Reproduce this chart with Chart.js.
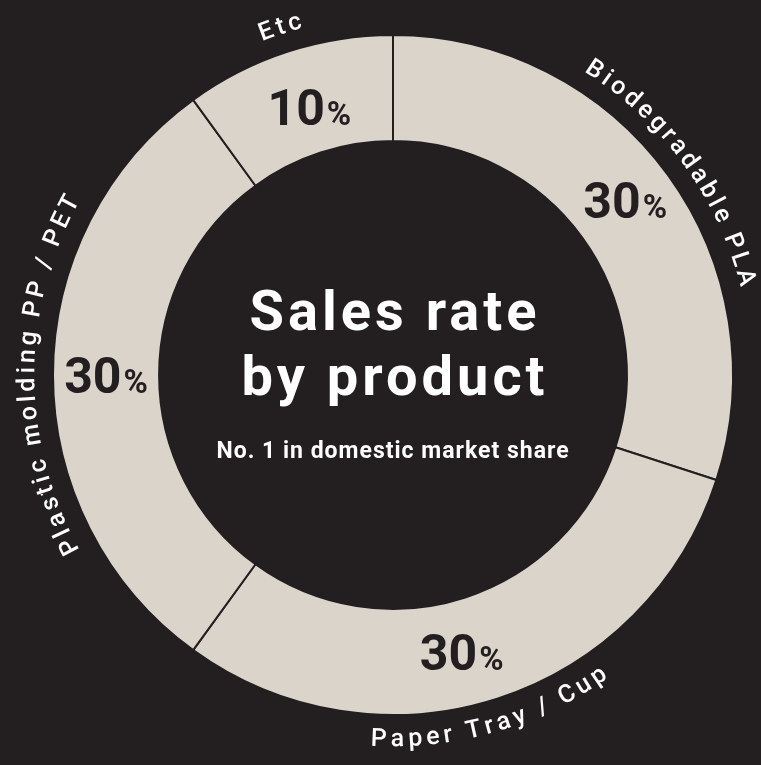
<!DOCTYPE html>
<html>
<head>
<meta charset="utf-8">
<title>Sales rate by product</title>
<script src="https://cdn.jsdelivr.net/npm/chart.js@4.4.1/dist/chart.umd.min.js"></script>
<style>
  html, body { margin: 0; padding: 0; background: #231f20; }
  #wrap { width: 761px; height: 765px; position: relative; }
</style>
</head>
<body>
<div id="wrap"><canvas id="salesChart"></canvas></div>
<script>
// Product categories, clockwise from 12 o'clock
const products = ['Biodegradable PLA', 'Paper Tray / Cup', 'Plastic molding PP / PET', 'Etc'];
const shares = [30, 30, 30, 10];

// Center text
const titleLines = ['Sales rate', 'by product'];
const subtitle = 'No. 1 in domestic market share';

const BG = '#231f20';
const RING = '#dbd4cb';
const FONT = 'Roboto, "Noto Sans", sans-serif';

// small hand adjustments of the % labels (the designer did not place them exactly mid-arc)
const pctNudge = [[0, -6], [-20, 4], [0, 0], [5, 5]];
// same idea for the curved names, in degrees along the ring
const nameNudge = [0, 2, 0, 0];

// Curved category names around the outside of the ring
const arcLabelsPlugin = {
    id: 'arcLabels',
    afterDatasetsDraw(chart, args, opts) {
        const ctx = chart.ctx;
        const meta = chart.getDatasetMeta(0);
        ctx.save();
        ctx.fillStyle = opts.color;
        ctx.font = opts.font;
        ctx.textAlign = 'center';
        ctx.textBaseline = 'middle';
        meta.data.forEach((arc, i) => {
            const p = arc.getProps(['x', 'y', 'startAngle', 'endAngle', 'outerRadius'], true);
            const r = p.outerRadius + opts.gap;
            const mid = (p.startAngle + p.endAngle) / 2 + (nameNudge[i] || 0) * Math.PI / 180;
            const chars = [...chart.data.labels[i]];
            const widths = chars.map(c => ctx.measureText(c).width);
            const total = widths.reduce((a, b) => a + b, 0) + opts.spacing * (chars.length - 1);
            // bottom half reads left to right, so walk the arc the other way
            const dir = Math.sin(mid) > 0.3 ? -1 : 1;
            let a = mid - dir * total / 2 / r;
            chars.forEach((c, k) => {
                const w = widths[k];
                const ca = a + dir * w / 2 / r;
                ctx.save();
                ctx.translate(p.x + r * Math.cos(ca), p.y + r * Math.sin(ca));
                ctx.rotate(ca + dir * Math.PI / 2);
                ctx.fillText(c, 0, 0);
                ctx.restore();
                a += dir * (w + opts.spacing) / r;
            });
        });
        ctx.restore();
    }
};

// "30%" style labels inside each segment
const pctLabelsPlugin = {
    id: 'pctLabels',
    afterDatasetsDraw(chart, args, opts) {
        const ctx = chart.ctx;
        const meta = chart.getDatasetMeta(0);
        ctx.save();
        ctx.fillStyle = opts.color;
        ctx.textAlign = 'left';
        ctx.textBaseline = 'alphabetic';
        meta.data.forEach((arc, i) => {
            const pos = arc.getCenterPoint(true);
            const nudge = pctNudge[i] || [0, 0];
            const num = String(chart.data.datasets[0].data[i]);
            ctx.font = opts.numFont;
            const wNum = ctx.measureText(num).width;
            ctx.font = opts.pctFont;
            const wPct = ctx.measureText('%').width;
            const x0 = pos.x + nudge[0] - (wNum + opts.pctGap + wPct) / 2;
            const base = pos.y + nudge[1] + opts.capHalf;
            ctx.font = opts.numFont;
            ctx.fillText(num, x0, base);
            ctx.font = opts.pctFont;
            ctx.fillText('%', x0 + wNum + opts.pctGap, base);
        });
        ctx.restore();
    }
};

const centerTextPlugin = {
    id: 'centerText',
    afterDatasetsDraw(chart, args, opts) {
        const ctx = chart.ctx;
        const arc = chart.getDatasetMeta(0).data[0];
        const cx = arc.x, cy = arc.y;
        ctx.save();
        ctx.fillStyle = opts.color;
        ctx.textAlign = 'center';
        ctx.textBaseline = 'alphabetic';
        ctx.font = opts.titleFont;
        ctx.letterSpacing = opts.titleSpacing;
        titleLines.forEach((line, i) => {
            ctx.fillText(line, cx + 2, cy + opts.titleBase + i * opts.lineHeight);
        });
        ctx.font = opts.subFont;
        ctx.letterSpacing = opts.subSpacing;
        ctx.fillText(subtitle, cx, cy + opts.subBase);
        ctx.restore();
    }
};

const ctx = document.getElementById('salesChart').getContext('2d');

new Chart(ctx, {
    type: 'doughnut',
    data: {
        labels: products,
        datasets: [{
            data: shares,
            backgroundColor: RING,
            borderColor: BG,
            borderWidth: 2,
            hoverOffset: 0
        }]
    },
    options: {
        responsive: true,
        maintainAspectRatio: false,
        animation: false,
        cutout: '68.8%',
        layout: {
            padding: { left: 52, right: 27, top: 34, bottom: 49 }
        },
        plugins: {
            legend: { display: false },
            tooltip: { enabled: false },
            arcLabels: {
                color: '#ffffff',
                font: '500 25px ' + FONT,
                gap: 25,
                spacing: 4
            },
            pctLabels: {
                color: BG,
                numFont: 'bold 50px ' + FONT,
                pctFont: 'bold 33px ' + FONT,
                pctGap: 2,
                capHalf: 18
            },
            centerText: {
                color: '#ffffff',
                titleFont: 'bold 56px ' + FONT,
                titleSpacing: '4px',
                titleBase: -45,
                lineHeight: 65,
                subFont: 'bold 23px ' + FONT,
                subSpacing: '1px',
                subBase: 83
            }
        }
    },
    plugins: [arcLabelsPlugin, pctLabelsPlugin, centerTextPlugin]
});
</script>
</body>
</html>
